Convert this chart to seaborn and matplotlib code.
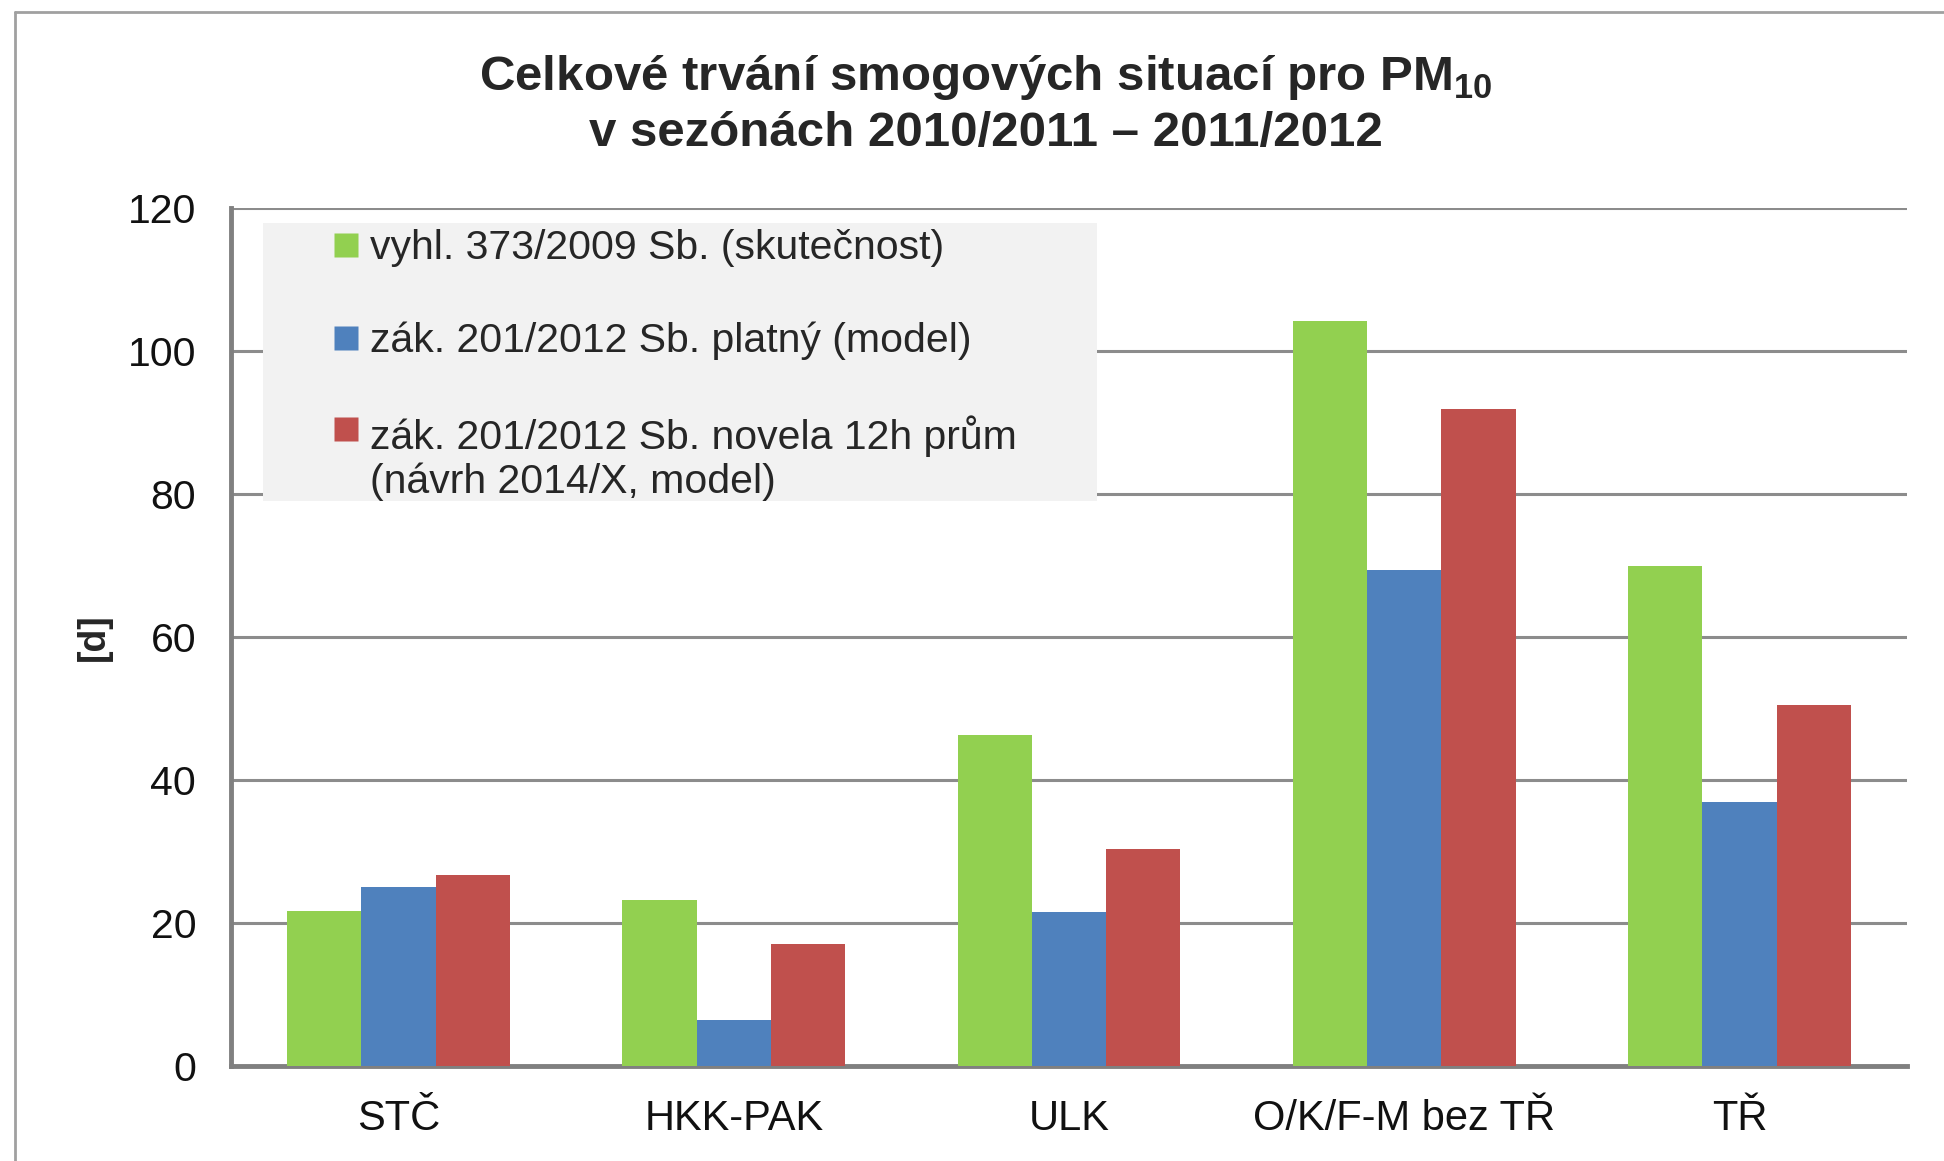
import matplotlib
matplotlib.use("Agg")
import matplotlib.pyplot as plt
import seaborn as sns
import pandas as pd
import numpy as np
from matplotlib.patches import Rectangle
from matplotlib.lines import Line2D

regions = ["STČ", "HKK-PAK", "ULK", "O/K/F-M bez TŘ", "TŘ"]
series = [
    "vyhl. 373/2009 Sb. (skutečnost)",
    "zák. 201/2012 Sb. platný (model)",
    "zák. 201/2012 Sb. novela 12h prům\n(návrh 2014/X, model)",
]
skutecnost = [21.7, 23.2, 46.3, 104.2, 69.9]
platny = [25.1, 6.4, 21.5, 69.4, 36.9]
novela = [26.7, 17.0, 30.3, 91.9, 50.5]
colors = ["#92D050", "#4F81BD", "#C0504D"]
yticks = [0, 20, 40, 60, 80, 100, 120]

sns.set_style("white")
plt.rcParams["font.family"] = ["Liberation Sans", "DejaVu Sans"]
plt.rcParams["mathtext.fontset"] = "custom"
plt.rcParams["mathtext.rm"] = "Liberation Sans:bold"
plt.rcParams["mathtext.bf"] = "Liberation Sans:bold"

rows = []
for s, vals in zip(series, [skutecnost, platny, novela]):
    for r, v in zip(regions, vals):
        rows.append({"region": r, "series": s, "days": v})
df = pd.DataFrame(rows)

fig = plt.figure(figsize=(19.44, 11.61), dpi=100)
ax = fig.add_axes([0.1188, 0.0818, 0.8622, 0.7391])

sns.barplot(data=df, x="region", y="days", hue="series", order=regions,
            hue_order=series, palette=colors, width=0.664, gap=0,
            saturation=1, linewidth=0, ax=ax, zorder=3)

ax.set_xlim(-0.5, 4.5)
ax.set_ylim(0, 120)
ax.set_yticks(yticks)
ax.yaxis.grid(True, color="#8c8c8c", linewidth=2.2, zorder=0)
ax.set_axisbelow(True)

for side in ["top", "right"]:
    ax.spines[side].set_visible(False)
ax.spines["left"].set_color("#808080")
ax.spines["left"].set_linewidth(3.5)
ax.spines["bottom"].set_color("#808080")
ax.spines["bottom"].set_linewidth(3.5)

ax.tick_params(axis="y", length=9, width=1.6, color="#808080", pad=16,
               labelsize=29.5, labelcolor="#111111")
ax.set_xticks(np.arange(-0.5, 5, 1), minor=True)
ax.tick_params(axis="x", which="major", length=0, pad=24, labelsize=30,
               labelcolor="#111111")
ax.tick_params(axis="x", which="minor", length=10, width=1.6, color="#808080")

ax.set_xlabel("")
ax.set_ylabel("[d]", fontsize=27, fontweight="bold")
ax.yaxis.set_label_coords(-0.0713, 0.5)

# legend on light gray panel
ax.add_patch(Rectangle((0.019, 0.6585), 0.4977, 0.324, transform=ax.transAxes,
                       facecolor="#F2F2F2", edgecolor="none", zorder=4))
handles = [Line2D([], [], marker="s", linestyle="none", markersize=17,
                  markerfacecolor=c, markeredgecolor="none") for c in colors]
leg = ax.legend(handles, series, loc="upper left", bbox_to_anchor=(0.0632, 0.975),
                frameon=False, fontsize=29.5, handlelength=0.45, handletextpad=0.36,
                labelspacing=1.33, borderaxespad=0, borderpad=0)
leg.set_zorder(5)
try:
    col = leg._legend_handle_box.get_children()[0]
    col.get_children()[2].align = "top"
except Exception:
    pass

fig.text(0.507, 0.933, "Celkové trvání smogových situací pro PM$_{10}$",
         ha="center", va="center", fontsize=35.5, fontweight="bold")
fig.text(0.507, 0.885, "v sezónách 2010/2011 – 2011/2012",
         ha="center", va="center", fontsize=35.5, fontweight="bold")

# outer frame
fig.add_artist(Line2D([0.0077, 0.0077], [0, 0.99], transform=fig.transFigure,
                      color="#a0a0a0", linewidth=2))
fig.add_artist(Line2D([0.0077, 1], [0.99, 0.99], transform=fig.transFigure,
                      color="#a0a0a0", linewidth=2))

fig.savefig("out.png", dpi=100)
